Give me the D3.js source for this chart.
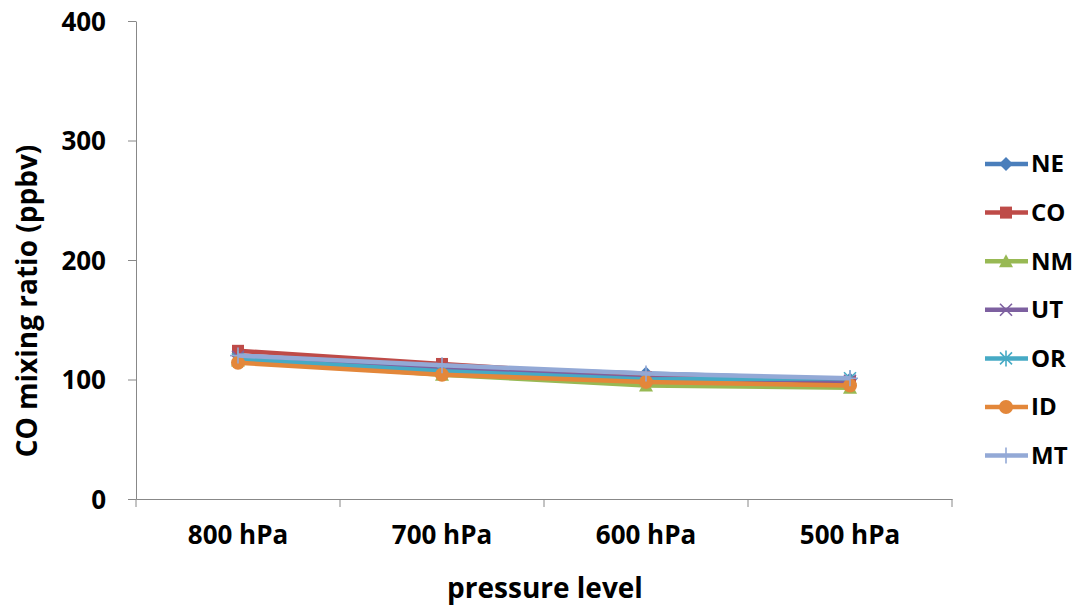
<!DOCTYPE html>
<html>
<head>
<meta charset="utf-8">
<script src="https://cdn.jsdelivr.net/npm/d3@7"></script>
<style>
  body { margin: 0; background: #fff; }
  svg { display: block; }
  text { font-family: "Open Sans", "Liberation Sans", sans-serif; font-weight: bold; fill: #000; }
  .axis path, .axis line { stroke: #888; stroke-width: 1; }
</style>
</head>
<body>
<svg id="chart" width="1079" height="606"></svg>
<script>
const levels = ["800 hPa", "700 hPa", "600 hPa", "500 hPa"];
const yTicks = [0, 100, 200, 300, 400];
const seriesNames = ["NE", "CO", "NM", "UT", "OR", "ID", "MT"];
const NE = [120, 110, 105, 100];
const CO = [124, 113, 102, 98];
const NM = [116, 104, 95, 93];
const UT = [119, 109, 101, 99];
const OR = [117, 107, 100, 101];
const ID = [114, 104, 98, 95];
const MT = [120, 112, 105, 101];
const seriesValues = [NE, CO, NM, UT, OR, ID, MT];
const seriesColors = ["#4A7EBB", "#BE4B48", "#98B954", "#7D60A0", "#46AAC5", "#E3873A", "#93A9D6"];
const seriesMarkers = ["diamond", "square", "triangle", "x", "star", "circle", "plus"];

const M = { left: 136, right: 952, top: 21, bottom: 499 };
const svg = d3.select("#chart");

const x = d3.scaleBand().domain(levels).range([M.left, M.right]);
const y = d3.scaleLinear().domain([0, 400]).range([M.bottom, M.top]);

// y axis
const ya = svg.append("g").attr("class", "axis")
  .attr("transform", `translate(${M.left},0)`)
  .call(d3.axisLeft(y).tickValues(yTicks).tickSize(8).tickPadding(22).tickSizeOuter(0));
ya.selectAll(".tick text").attr("dy", "0.35em").style("font-size", "26px");

// x axis with ticks between categories
const xa = svg.append("g").attr("class", "axis")
  .attr("transform", `translate(0,${M.bottom})`)
  .call(d3.axisBottom(x).tickSize(0).tickPadding(27).tickSizeOuter(0));
xa.selectAll(".tick text").style("font-size", "26px");
const bounds = levels.map(l => x(l)).concat([M.right]);
xa.selectAll("line.sep").data(bounds).enter().append("line")
  .attr("class", "sep")
  .attr("x1", d => d).attr("x2", d => d).attr("y1", 0).attr("y2", 8)
  .attr("stroke", "#888");

// titles
svg.append("text").attr("x", 545).attr("y", 598).attr("text-anchor", "middle")
  .style("font-size", "28px").text("pressure level");
svg.append("text").attr("transform", "translate(37,301) rotate(-90)")
  .attr("text-anchor", "middle").style("font-size", "28px").text("CO mixing ratio (ppbv)");

function marker(g, type, c, cx, cy) {
  const s = 6;
  if (type === "diamond") {
    g.append("path").attr("d", `M${cx},${cy - 7}L${cx + 7},${cy}L${cx},${cy + 7}L${cx - 7},${cy}Z`).attr("fill", c);
  } else if (type === "square") {
    g.append("rect").attr("x", cx - s).attr("y", cy - s).attr("width", 2 * s).attr("height", 2 * s).attr("fill", c);
  } else if (type === "triangle") {
    g.append("path").attr("d", `M${cx},${cy - 7}L${cx + 7},${cy + 6}L${cx - 7},${cy + 6}Z`).attr("fill", c);
  } else if (type === "circle") {
    g.append("circle").attr("cx", cx).attr("cy", cy).attr("r", 7).attr("fill", c);
  } else {
    const lines = [];
    if (type === "x" || type === "star") lines.push([-s, -s, s, s], [-s, s, s, -s]);
    if (type === "plus" || type === "star") lines.push([0, -s - 2, 0, s + 2]);
    if (type === "plus") lines.push([-s - 2, 0, s + 2, 0]);
    lines.forEach(l => g.append("line")
      .attr("x1", cx + l[0]).attr("y1", cy + l[1]).attr("x2", cx + l[2]).attr("y2", cy + l[3])
      .attr("stroke", c).attr("stroke-width", 1.6));
  }
}

const line = d3.line().x((d, i) => x(levels[i]) + x.bandwidth() / 2).y(d => y(d));
seriesValues.forEach((vals, si) => {
  const g = svg.append("g");
  g.append("path").attr("d", line(vals)).attr("fill", "none")
    .attr("stroke", seriesColors[si]).attr("stroke-width", 4.5);
  vals.forEach((v, i) => marker(g, seriesMarkers[si], seriesColors[si], x(levels[i]) + x.bandwidth() / 2, y(v)));
});

// legend
const lg = svg.append("g");
seriesNames.forEach((n, i) => {
  const ly = 164 + i * 48.6;
  lg.append("line").attr("x1", 985).attr("x2", 1028).attr("y1", ly).attr("y2", ly)
    .attr("stroke", seriesColors[i]).attr("stroke-width", 4.5);
  marker(lg, seriesMarkers[i], seriesColors[i], 1006, ly);
  lg.append("text").attr("x", 1031).attr("y", ly).attr("dy", "0.35em")
    .style("font-size", "24px").text(n);
});
</script>
</body>
</html>
